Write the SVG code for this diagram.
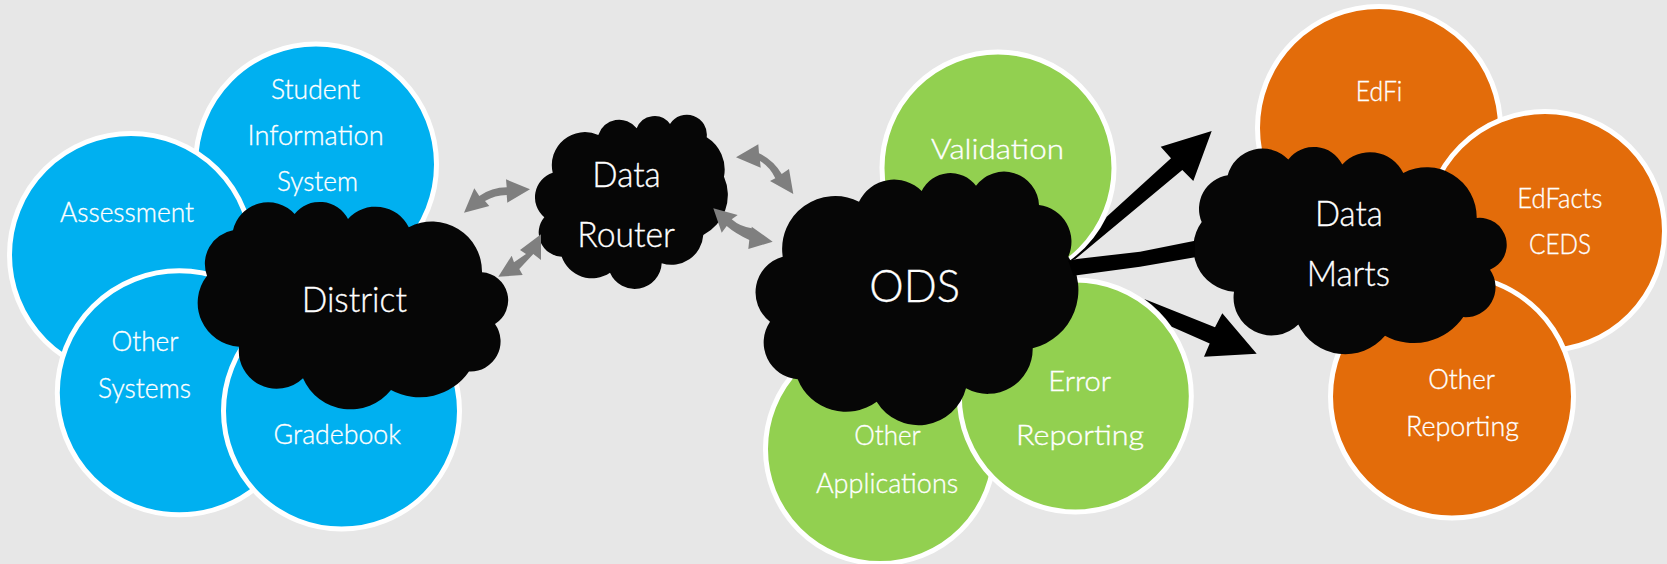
<svg xmlns="http://www.w3.org/2000/svg" width="1667" height="564" viewBox="0 0 1667 564">
<style>
.c{stroke:#fff;stroke-width:5}
.b{fill:#00b0f0}.g{fill:#92d050}.o{fill:#e36c0a}
.k{fill:#060606}
.s{fill:#7f7f7f}.a{fill:#000}
text{font-family:"Lato","Noto Sans",sans-serif;font-weight:300;fill:#fff;stroke:#fff;stroke-width:.35;font-size:28px}
.m{font-size:35px}.l{font-size:45px}
</style>
<rect width="1667" height="564" fill="#e7e7e7"/>
<g id="student-information-system"><circle class="c b" cx="316" cy="164.500" r="120.500"/>
<text x="271" y="99" textLength="89" lengthAdjust="spacingAndGlyphs">Student</text>
<text x="247.600" y="144.500" textLength="136" lengthAdjust="spacingAndGlyphs">Information</text>
<text x="277" y="191" textLength="81" lengthAdjust="spacingAndGlyphs">System</text></g>
<g id="assessment"><circle class="c b" cx="131" cy="255" r="121.500"/>
<text x="60" y="222" textLength="134" lengthAdjust="spacingAndGlyphs">Assessment</text></g>
<g id="other-systems"><circle class="c b" cx="179.300" cy="392.800" r="122"/>
<text x="111.500" y="351" textLength="67" lengthAdjust="spacingAndGlyphs">Other</text>
<text x="98" y="397.700" textLength="93" lengthAdjust="spacingAndGlyphs">Systems</text></g>
<g id="gradebook"><circle class="c b" cx="341.500" cy="411" r="118"/>
<text x="273.600" y="444.300" textLength="127.400" lengthAdjust="spacingAndGlyphs">Gradebook</text></g>
<g id="validation"><circle class="c g" cx="998" cy="168" r="116"/>
<text x="931" y="159" textLength="133" lengthAdjust="spacingAndGlyphs">Validation</text></g>
<g id="other-applications"><circle class="c g" cx="880" cy="449" r="114.500"/>
<text x="854.300" y="445" textLength="66.400" lengthAdjust="spacingAndGlyphs">Other</text>
<text x="816" y="492.500" textLength="142.300" lengthAdjust="spacingAndGlyphs">Applications</text></g>
<g id="error-reporting"><circle class="c g" cx="1075.300" cy="396" r="116"/>
<text x="1048.300" y="390.500" textLength="62.700" lengthAdjust="spacingAndGlyphs">Error</text>
<text x="1016" y="444.500" textLength="128" lengthAdjust="spacingAndGlyphs">Reporting</text></g>
<g id="edfi"><circle class="c o" cx="1379" cy="128" r="121.500"/>
<text x="1355.700" y="100.700" textLength="46.600" lengthAdjust="spacingAndGlyphs">EdFi</text></g>
<g id="edfacts-ceds"><circle class="c o" cx="1545" cy="231" r="119.500"/>
<text x="1517.300" y="207.600" textLength="85" lengthAdjust="spacingAndGlyphs">EdFacts</text>
<text x="1529" y="254.300" textLength="62" lengthAdjust="spacingAndGlyphs">CEDS</text></g>
<g id="other-reporting"><circle class="c o" cx="1452" cy="396.500" r="121.500"/>
<text x="1428.300" y="388.700" textLength="66.700" lengthAdjust="spacingAndGlyphs">Other</text>
<text x="1406" y="436" textLength="113" lengthAdjust="spacingAndGlyphs">Reporting</text></g>
<g id="district"><path class="k" d="M207,275.700A34,34 0 0 1 233,230.300A36,36 0 0 1 294.600,214A32,32 0 0 1 348,219A37,37 0 0 1 408.800,227.300A50,50 0 0 1 482,272.300A28,28 0 0 1 495,324A30,30 0 0 1 469,371.400A60,60 0 0 1 391,390.100A52,52 0 0 1 303,378.300A38,38 0 0 1 239,346.700A44,44 0 0 1 207,275.700Z"/>
<text class="m" x="301.700" y="311.500" textLength="105.300" lengthAdjust="spacingAndGlyphs">District</text></g>
<g id="data-router"><path class="k" d="M552.700,172.700A33,33 0 0 1 598.300,135A22,22 0 0 1 636.700,128.300A19,19 0 0 1 670,124A20,20 0 0 1 706.700,137.300A38,38 0 0 1 724,176.700A45,45 0 0 1 703.300,235A32,32 0 0 1 661.700,263.300A27,27 0 0 1 610,272.700A32,32 0 0 1 561.700,256.700A24,24 0 0 1 544.300,217.300A26,26 0 0 1 552.700,172.700Z"/>
<text class="m" x="592.300" y="186.700" textLength="68.400" lengthAdjust="spacingAndGlyphs">Data</text>
<text class="m" x="577.300" y="247" textLength="97.700" lengthAdjust="spacingAndGlyphs">Router</text></g>
<g id="ods"><path class="k" d="M782.700,256.700A53,53 0 0 1 859,201.700A39,39 0 0 1 921.700,191A32,32 0 0 1 976,185.700A35,35 0 0 1 1039,205A37,37 0 0 1 1068.300,256.700A60,60 0 0 1 1032.700,348.300A45,45 0 0 1 966,388.300A49,49 0 0 1 876.700,401.700A52,52 0 0 1 797.700,379.300A37,37 0 0 1 770,321.700A37,37 0 0 1 782.700,256.700Z"/>
<text class="l" x="869.300" y="301.500" textLength="90.700" lengthAdjust="spacingAndGlyphs">ODS</text></g>
<g id="data-marts"><path class="k" d="M1201.700,222.100A34,34 0 0 1 1227.700,175.200A36,36 0 0 1 1288.300,159.500A32,32 0 0 1 1342.300,164.600A37,37 0 0 1 1403.300,173.100A50,50 0 0 1 1476.700,218A27,27 0 0 1 1490,269.800A30,30 0 0 1 1463.300,317.100A60,60 0 0 1 1385,335.700A52,52 0 0 1 1298.300,324.500A38,38 0 0 1 1234,291.800A44,44 0 0 1 1201.700,222.100Z"/>
<text class="m" x="1315" y="225.900" textLength="67.700" lengthAdjust="spacingAndGlyphs">Data</text>
<text class="m" x="1306.700" y="286.300" textLength="83.300" lengthAdjust="spacingAndGlyphs">Marts</text></g>
<g id="connectors">
<path class="s" d="M464,212.700L474.300,188.300L479.300,196Q491.700,187.300 506.700,187.300L506,179.300L530,189.300L507.300,202.700L506.700,195Q495,195 485,201L489.300,206Z"/>
<path class="s" d="M498.300,276.700L511.700,255.700L514,262.300L526,254L520,250L541,234.300L541,260L533.300,254L519.300,269L522.700,275Z"/>
<path class="s" d="M736,157.300L758.300,144.300L759,153.300Q773.300,160 781.700,174L789,169L793.300,194L770,181L775.300,178.300Q770,166.700 760,161L760.700,167.700Z"/>
<path class="s" d="M713.300,208.300L737.700,215L731.700,219.300Q740,226.700 751.700,228.300L751.700,226.700L772.700,241.700L748.300,249L749.300,240Q735,233.300 726.700,226L721.700,232.700Z"/>
<path class="a" d="M1068.300,261.700A118.500,118.500 0 0 0 1106.700,216.700L1171,158.300L1160.700,146.700L1211.700,131L1193.300,181L1182.300,170L1075,259.300Z"/>
<path class="a" d="M1068.300,260.700L1077,259L1140,251.700L1195,240.700L1195,257.300L1140,266.700L1073.300,275.700Z"/>
<path class="a" d="M1144.300,299L1215,327.300L1222.300,313.300L1256.700,353.700L1204,356.700L1209.700,343.500L1171.700,326.700A118.500,118.500 0 0 0 1144.300,299Z"/>
</g>
</svg>
